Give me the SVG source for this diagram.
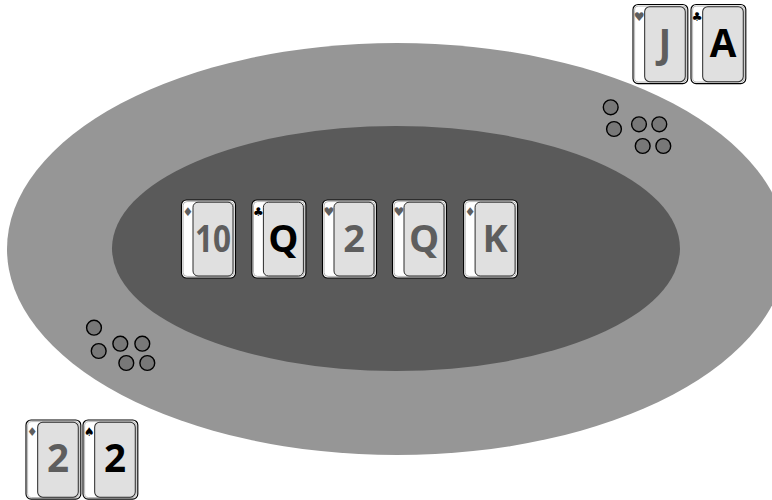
<svg xmlns="http://www.w3.org/2000/svg" width="772" height="500" viewBox="0 0 772 500">
  <style>
    .bg { fill: #ffffff; }
    .rail { fill: #969696; }
    .felt { fill: #5a5a5a; }
    .card { fill: #ffffff; stroke: #000000; stroke-width: 1.1; }
    .card-in { fill: none; stroke: #9a9a9a; stroke-width: 0.7; }
    .face { fill: #e0e0e0; stroke: #2a2a2a; stroke-width: 1; }
    .rank { font-family: "Open Sans", "Noto Sans", "DejaVu Sans", sans-serif; font-weight: 700; font-size: 38px; text-anchor: middle; }
    .suit { font-family: "DejaVu Sans", sans-serif; font-size: 12px; text-anchor: middle; }
    .red { fill: #5e5e5e; }
    .blk { fill: #000000; }
    .chip { fill: #787878; stroke: #000000; stroke-width: 1.4; }
  </style>
  <defs>
    <g id="cardBody">
      <rect class="card" x="0" y="0" width="54" height="78" rx="5"/>
      <rect class="card-in" x="1.6" y="1.6" width="50.8" height="74.8" rx="4"/>
      <rect class="face" x="11.5" y="2.2" width="40" height="73.8" rx="5"/>
    </g>
  </defs>
  <rect class="bg" x="0" y="0" width="772" height="500"/>

  <g id="table">
    <ellipse class="rail" cx="397" cy="249" rx="390" ry="206"/>
    <ellipse class="felt" cx="396" cy="248.5" rx="284" ry="122.5"/>
  </g>

  <g id="community">
    <g id="card-10d" transform="translate(181.5,200)">
      <use href="#cardBody"/>
      <text class="suit red" x="6.5" y="16">♦</text>
      <text class="rank red" x="31.5" y="51.5" textLength="36" lengthAdjust="spacingAndGlyphs">10</text>
    </g>
    <g id="card-Qc" transform="translate(251.9,200)">
      <use href="#cardBody"/>
      <text class="suit blk" x="6.5" y="16">♣</text>
      <text class="rank blk" x="31.5" y="51.5">Q</text>
    </g>
    <g id="card-2h" transform="translate(322.5,200)">
      <use href="#cardBody"/>
      <text class="suit red" x="6.5" y="16">♥</text>
      <text class="rank red" x="31.5" y="51.5">2</text>
    </g>
    <g id="card-Qh" transform="translate(392.5,200)">
      <use href="#cardBody"/>
      <text class="suit red" x="6.5" y="16">♥</text>
      <text class="rank red" x="31.5" y="51.5">Q</text>
    </g>
    <g id="card-Kd" transform="translate(463.6,200)">
      <use href="#cardBody"/>
      <text class="suit red" x="6.5" y="16">♦</text>
      <text class="rank red" x="31.5" y="51.5">K</text>
    </g>
  </g>

  <g id="hand-top">
    <g id="card-Jh" transform="translate(633,4.5) scale(1.015)">
      <use href="#cardBody"/>
      <text class="suit red" x="6" y="16">♥</text>
      <text class="rank red" x="31.5" y="51.5">J</text>
    </g>
    <g id="card-Ac" transform="translate(691,4.5) scale(1.015)">
      <use href="#cardBody"/>
      <text class="suit blk" x="6" y="16">♣</text>
      <text class="rank blk" x="31.5" y="51.5">A</text>
    </g>
  </g>

  <g id="hand-bottom">
    <g id="card-2d" transform="translate(26,420) scale(1.015)">
      <use href="#cardBody"/>
      <text class="suit red" x="6" y="16">♦</text>
      <text class="rank red" x="31.5" y="51.5">2</text>
    </g>
    <g id="card-2s" transform="translate(83,420) scale(1.015)">
      <use href="#cardBody"/>
      <text class="suit blk" x="6" y="16">♠</text>
      <text class="rank blk" x="31.5" y="51.5">2</text>
    </g>
  </g>

  <g id="chips-top">
    <circle class="chip" cx="610.7" cy="107.3" r="7.4"/>
    <circle class="chip" cx="614" cy="129" r="7.4"/>
    <circle class="chip" cx="639" cy="124.3" r="7.4"/>
    <circle class="chip" cx="659.3" cy="124.3" r="7.4"/>
    <circle class="chip" cx="642.7" cy="146" r="7.4"/>
    <circle class="chip" cx="663.3" cy="146" r="7.4"/>
  </g>

  <g id="chips-bottom">
    <circle class="chip" cx="94" cy="327.7" r="7.4"/>
    <circle class="chip" cx="98.7" cy="351" r="7.4"/>
    <circle class="chip" cx="120.3" cy="343.7" r="7.4"/>
    <circle class="chip" cx="142.3" cy="343.7" r="7.4"/>
    <circle class="chip" cx="126.3" cy="363" r="7.4"/>
    <circle class="chip" cx="147.3" cy="363" r="7.4"/>
  </g>
</svg>
